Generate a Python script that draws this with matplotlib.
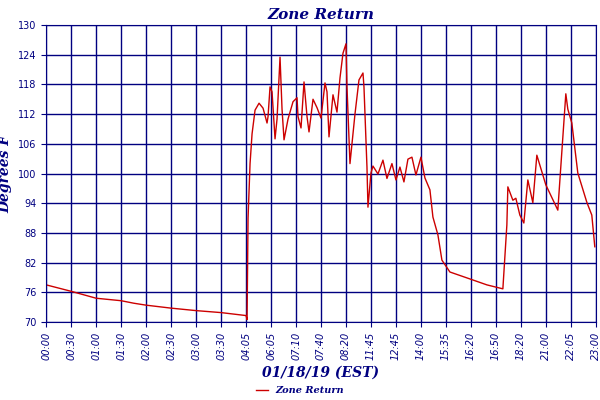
import matplotlib.pyplot as plt

# slot positions (category index units) and temperatures
# each line of slot matches the same line of temp
slot = [0.00, 1.00, 2.00, 3.00, 3.50, 4.00, 5.00, 6.00, 7.00, 8.00,
        8.04, 8.08, 8.16, 8.24, 8.36, 8.52, 8.68, 8.84, 8.88, 8.96,
        9.04, 9.16, 9.24, 9.36, 9.44, 9.52, 9.68, 9.88, 10.04, 10.08,
        10.20, 10.32, 10.44, 10.52, 10.68, 10.84, 11.00, 11.16, 11.24, 11.32,
        11.48, 11.64, 11.76, 11.88, 12.00, 12.04, 12.16, 12.36, 12.52, 12.68,
        12.72, 12.84, 12.88, 13.00, 13.08, 13.28, 13.48, 13.64, 13.84, 14.00,
        14.16, 14.32, 14.48, 14.64, 14.80, 15.00, 15.16, 15.36, 15.48, 15.68,
        15.84, 16.16, 16.96, 17.64, 18.28, 18.44, 18.48, 18.68, 18.80, 18.96,
        19.12, 19.28, 19.48, 19.64, 20.00, 20.48, 20.80, 20.88, 21.04, 21.28,
        21.64, 21.84, 21.96]
temp = [77.5, 76.2, 74.8, 74.3, 73.8, 73.4, 72.8, 72.3, 71.9, 71.3,
        70.5, 91.0, 102.0, 108.0, 112.8, 114.2, 113.2, 110.2, 111.5, 117.5,
        116.5, 107.0, 111.0, 123.5, 113.0, 106.8, 111.0, 114.5, 115.3, 111.5,
        109.2, 118.5, 111.5, 108.4, 115.0, 113.3, 111.2, 118.3, 116.5, 107.4,
        115.9, 112.4, 119.3, 124.3, 126.2, 117.5, 102.0, 112.0, 118.9, 120.3,
        117.5, 101.3, 93.2, 100.1, 101.5, 99.9, 102.7, 99.0, 102.0, 98.7,
        101.3, 98.3, 102.9, 103.3, 99.7, 103.3, 99.1, 96.7, 91.2, 87.6,
        82.5, 80.1, 78.7, 77.5, 76.7, 89.6, 97.3, 94.6, 95.0, 91.6,
        90.0, 98.7, 94.1, 103.7, 97.7, 92.6, 116.1, 113.0, 110.2, 100.1,
        94.2, 91.6, 85.2]
tick_labels = ['00:00', '00:30', '01:00', '01:30', '02:00', '02:30', '03:00',
               '03:30', '04:05', '06:05', '07:10', '07:40', '08:20', '11:45',
               '12:45', '14:00', '15:35', '16:20', '16:50', '18:20', '21:00',
               '22:05', '23:00']

navy = '#000080'
font = dict(family='DejaVu Serif', style='italic', weight='bold', color=navy)

fig = plt.figure(figsize=(6, 4), dpi=100)
ax = fig.add_axes([0.077, 0.195, 0.916, 0.7425])
ax.plot(slot, temp, color='#cc0000', lw=1, label='Zone Return')
ax.set_xlim(0, 22)
ax.set_ylim(70, 130)
ax.set_xticks(range(len(tick_labels)))
ax.set_xticklabels(tick_labels, rotation=90, fontsize=7, color=navy, style='italic')
ax.set_yticks(range(70, 131, 6))
ax.tick_params(axis='y', labelsize=7, colors=navy)
ax.tick_params(axis='x', colors=navy)
ax.grid(True, color=navy, lw=1)
for s in ax.spines.values():
    s.set_color(navy)
ax.set_title('Zone Return', fontsize=11, pad=4, **font)
ax.set_ylabel('Degrees F', fontsize=10, labelpad=4, **font)
ax.set_xlabel('01/18/19 (EST)', fontsize=10, labelpad=4, **font)
leg = fig.legend(loc='lower center', bbox_to_anchor=(0.5, -0.01), frameon=False,
                 prop=dict(family='DejaVu Serif', style='italic', weight='bold', size=7),
                 handlelength=1.2)
for t in leg.get_texts():
    t.set_color(navy)
fig.savefig('out.png')
